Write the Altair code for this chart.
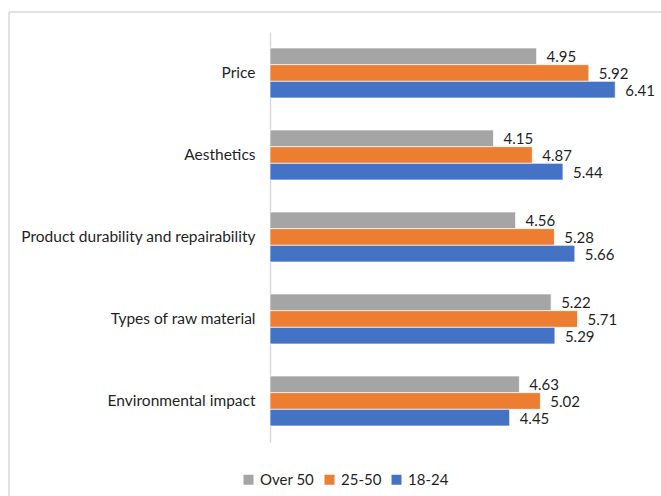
import altair as alt
import pandas as pd

# Survey factors and mean ratings per age group
factors = [
    "Price",
    "Aesthetics",
    "Product durability and repairability",
    "Types of raw material",
    "Environmental impact",
]
groups = ["Over 50", "25-50", "18-24"]
over_50 = [4.95, 4.15, 4.56, 5.22, 4.63]
age_25_50 = [5.92, 4.87, 5.28, 5.71, 5.02]
age_18_24 = [6.41, 5.44, 5.66, 5.29, 4.45]
colors = ["#A5A5A5", "#ED7D31", "#4472C4"]

rows = []
for series, vals in zip(groups, [over_50, age_25_50, age_18_24]):
    for f, v in zip(factors, vals):
        rows.append({"factor": f, "group": series, "value": v})
df = pd.DataFrame(rows)

FONT = "Lato"
TEXT = "#1f1f1f"
SIZE = 15

y_enc = alt.Y(
    "factor:N",
    sort=factors,
    scale=alt.Scale(paddingInner=0.39, paddingOuter=0.195),
    axis=alt.Axis(
        title=None,
        ticks=False,
        labelPadding=15,
        labelFontSize=15.5,
        labelFont=FONT,
        labelColor=TEXT,
        domainColor="#d9d9d9",
        domainWidth=1.5,
        labelLimit=300,
    ),
)
yoff_enc = alt.YOffset("group:N", sort=groups, scale=alt.Scale(paddingInner=0, paddingOuter=0))
x_enc = alt.X("value:Q", scale=alt.Scale(domain=[0, 7], nice=False), axis=None)

bars = alt.Chart(df).mark_bar(stroke="white", strokeWidth=0.7).encode(
    y=y_enc,
    yOffset=yoff_enc,
    x=x_enc,
    color=alt.Color(
        "group:N",
        sort=groups,
        scale=alt.Scale(domain=groups, range=colors),
        legend=alt.Legend(
            title=None,
            orient="none",
            direction="horizontal",
            legendX=-29,
            legendY=440,
            padding=0,
            symbolType="square",
            symbolSize=100,
            symbolStrokeWidth=0,
            labelFontSize=SIZE,
            labelFont=FONT,
            labelColor=TEXT,
            labelOffset=4,
            columnPadding=7,
        ),
    ),
)

labels = alt.Chart(df).mark_text(
    align="left", baseline="middle", dx=10, dy=1, fontSize=SIZE, font=FONT, color=TEXT
).encode(
    y=alt.Y("factor:N", sort=factors),
    yOffset=alt.YOffset("group:N", sort=groups),
    x="value:Q",
    text=alt.Text("value:Q", format=".2f"),
)

# light frame around the chart area
frame_df = pd.DataFrame({"k": [0]})
frame_top = alt.Chart(frame_df).mark_rule(color="#d9d9d9", strokeWidth=1.5).encode(
    x=alt.value(-261), x2=alt.value(420), y=alt.value(-20)
)
frame_left = alt.Chart(frame_df).mark_rule(color="#d9d9d9", strokeWidth=1.5).encode(
    x=alt.value(-261), y=alt.value(-20), y2=alt.value(480)
)

chart = (
    alt.layer(frame_top, frame_left, bars, labels)
    .properties(
        width=377,
        height=410,
        autosize=alt.AutoSizeParams(type="none"),
        padding={"left": 270, "top": 32, "right": 14, "bottom": 54},
        background="white",
    )
    .configure_view(stroke=None)
)

chart.save("out.html", embed_options={"renderer": "svg", "actions": False})
